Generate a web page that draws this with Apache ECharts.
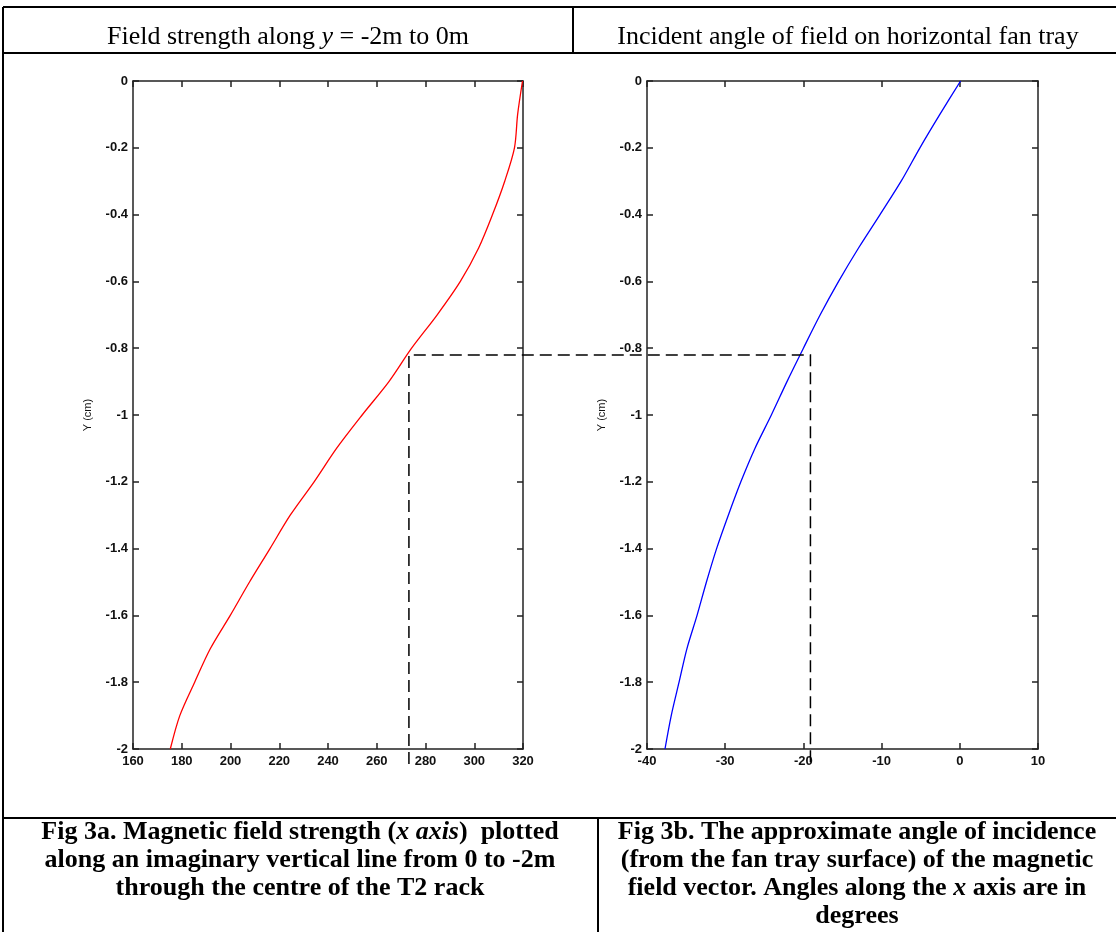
<!DOCTYPE html>
<html>
<head>
<meta charset="utf-8">
<script src="https://cdn.jsdelivr.net/npm/echarts@6/dist/echarts.min.js"></script>
<style>
  html, body { margin: 0; padding: 0; background: #fff; }
  #chart { width: 1116px; height: 932px; }
</style>
</head>
<body>
<div id="chart"></div>
<script>
// depth y (m) and the two curves read along it
const yValues = [0, -0.1, -0.2, -0.3, -0.4, -0.5, -0.6, -0.7, -0.8, -0.9, -1.0,
  -1.1, -1.2, -1.3, -1.4, -1.5, -1.6, -1.7, -1.8, -1.9, -2.0];
const fieldStrength = [319.8, 317.8, 316.5, 312.5, 307.5, 301.8, 294.3, 284.8, 274.3, 265.0, 254.0,
  243.5, 234.3, 224.5, 216.2, 207.8, 199.9, 191.7, 185.3, 179.2, 175.3];
const incidentAngle = [0.1, -2.55, -5.1, -7.5, -10.2, -12.95, -15.5, -17.85, -20.0, -22.1, -24.1,
  -26.2, -28.0, -29.6, -31.1, -32.4, -33.6, -34.9, -35.9, -36.9, -37.7];

// dashed guide: y = -0.82 read across both plots
const guideY = -0.82;
const guideField = 273.2;
const guideAngle = -19.1;
const guideBottom = -2.045;

const headerLeft = "Field strength along {i|y} = -2m to 0m";
const headerRight = "Incident angle of field on horizontal fan tray";
const captionLeft = [
  "Fig 3a. Magnetic field strength ({i|x axis})  plotted",
  "along an imaginary vertical line from 0 to -2m",
  "through the centre of the T2 rack"
];
const captionRight = [
  "Fig 3b. The approximate angle of incidence",
  "(from the fan tray surface) of the magnetic",
  "field vector. Angles along the {i|x} axis are in",
  "degrees"
];

const chart = echarts.init(document.getElementById("chart"));

const tickFont = { fontFamily: "Liberation Sans", fontSize: 13, fontWeight: "bold", color: "#111" };
const axisLine = { show: true, onZero: false, lineStyle: { color: "#222", width: 1.5 } };
const axisTick = { show: true, inside: true, length: 6, lineStyle: { color: "#222", width: 1.5 } };

function xAxes(grid, min, max, interval) {
  return [
    { type: "value", gridIndex: grid, position: "bottom", min, max, interval,
      axisLine, axisTick, splitLine: { show: false },
      axisLabel: Object.assign({ margin: 6 }, tickFont) },
    { type: "value", gridIndex: grid, position: "top", min, max, interval,
      axisLine, axisTick, splitLine: { show: false }, axisLabel: { show: false } }
  ];
}

function yAxes(grid) {
  return [
    { type: "value", gridIndex: grid, position: "left", min: -2, max: 0, interval: 0.2,
      axisLine, axisTick, splitLine: { show: false },
      axisLabel: Object.assign({ margin: 5 }, tickFont),
      name: "Y (cm)", nameLocation: "middle", nameGap: 40, nameRotate: 90,
      nameTextStyle: { fontFamily: "Liberation Sans", fontSize: 11, color: "#111" } },
    { type: "value", gridIndex: grid, position: "right", min: -2, max: 0, interval: 0.2,
      axisLine, axisTick, splitLine: { show: false }, axisLabel: { show: false } }
  ];
}

const serif = "Liberation Serif";
const textSize = 26;
const italic = { fontStyle: "italic", fontFamily: serif, fontSize: textSize };
const italicBold = { fontStyle: "italic", fontWeight: "bold", fontFamily: serif, fontSize: textSize };

function textEl(text, x, y, bold) {
  return {
    type: "text", x, y, silent: true,
    style: {
      text, x: 0, y: 0, align: "center", verticalAlign: "middle",
      fontFamily: serif, fontSize: textSize, fontWeight: bold ? "bold" : "normal", fill: "#000",
      rich: { i: bold ? italicBold : italic }
    }
  };
}

function lineEl(x1, y1, x2, y2) {
  return { type: "line", silent: true, shape: { x1, y1, x2, y2 },
    style: { stroke: "#000", lineWidth: 2 } };
}

const graphic = [
  lineEl(3, 7, 1116, 7),
  lineEl(3, 53, 1116, 53),
  lineEl(3, 818, 1116, 818),
  lineEl(3, 7, 3, 932),
  lineEl(573, 7, 573, 53),
  lineEl(598, 818, 598, 932),
  textEl(headerLeft, 288, 37, false),
  textEl(headerRight, 848, 37, false)
];
captionLeft.forEach((t, i) => graphic.push(textEl(t, 300, 832 + i * 28, true)));
captionRight.forEach((t, i) => graphic.push(textEl(t, 857, 832 + i * 28, true)));

chart.setOption({
  animation: false,
  backgroundColor: "#fff",
  grid: [
    { left: 133, top: 81, width: 390, height: 668 },
    { left: 647, top: 81, width: 391, height: 668 }
  ],
  xAxis: xAxes(0, 160, 320, 20).concat(xAxes(1, -40, 10, 10)),
  yAxis: yAxes(0).concat(yAxes(1)),
  series: [
    {
      type: "line", xAxisIndex: 0, yAxisIndex: 0, showSymbol: false, smooth: 0.3,
      data: yValues.map((y, i) => [fieldStrength[i], y]),
      lineStyle: { color: "#ff0000", width: 1.3 }
    },
    {
      type: "line", xAxisIndex: 2, yAxisIndex: 2, showSymbol: false, smooth: 0.3,
      data: yValues.map((y, i) => [incidentAngle[i], y]),
      lineStyle: { color: "#0000ff", width: 1.3 }
    }
  ],
  graphic
});

const a = chart.convertToPixel({ xAxisIndex: 0, yAxisIndex: 0 }, [guideField, guideBottom]);
const b = chart.convertToPixel({ xAxisIndex: 0, yAxisIndex: 0 }, [guideField, guideY]);
const c = chart.convertToPixel({ xAxisIndex: 2, yAxisIndex: 2 }, [guideAngle, guideY]);
const d = chart.convertToPixel({ xAxisIndex: 2, yAxisIndex: 2 }, [guideAngle, guideBottom]);

chart.setOption({
  graphic: graphic.concat([{
    type: "polyline", silent: true, z: 10,
    shape: { points: [a, b, c, d] },
    style: { stroke: "#000", lineWidth: 1.5, lineDash: [12, 6], fill: null }
  }])
});
</script>
</body>
</html>
